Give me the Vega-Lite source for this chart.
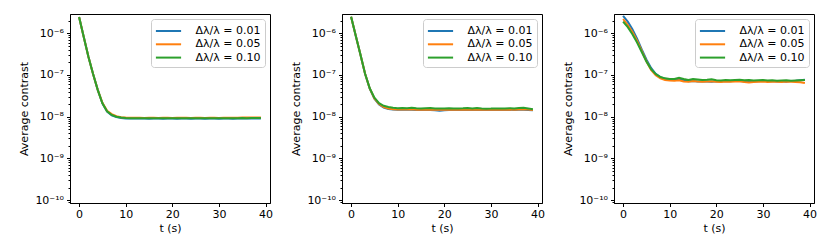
{
  "$schema": "https://vega.github.io/schema/vega-lite/v6.json",
  "background": "white",
  "padding": {"left": 18, "top": 13, "right": 5, "bottom": 5},
  "spacing": 16,
  "datasets": {
    "rows": [
      {"p":1,"t":0,"a":2.45e-6,"b":2.45e-6,"c":2.45e-6},
      {"p":1,"t":1,"a":8.1e-7,"b":8.1e-7,"c":8.1e-7},
      {"p":1,"t":2,"a":2.75e-7,"b":2.75e-7,"c":2.75e-7},
      {"p":1,"t":3,"a":1.05e-7,"b":1.05e-7,"c":1.05e-7},
      {"p":1,"t":4,"a":4.4e-8,"b":4.4e-8,"c":4.4e-8},
      {"p":1,"t":5,"a":2.1e-8,"b":2.15e-8,"c":2.1e-8},
      {"p":1,"t":6,"a":1.33e-8,"b":1.38e-8,"c":1.35e-8},
      {"p":1,"t":7,"a":1.08e-8,"b":1.15e-8,"c":1.1e-8},
      {"p":1,"t":8,"a":9.8e-9,"b":1.03e-8,"c":1.0e-8},
      {"p":1,"t":9,"a":9.3e-9,"b":9.7e-9,"c":9.5e-9},
      {"p":1,"t":10,"a":9.1e-9,"b":9.5e-9,"c":9.25e-9},
      {"p":1,"t":11,"a":9.05e-9,"b":9.4e-9,"c":9.2e-9},
      {"p":1,"t":12,"a":9.0e-9,"b":9.4e-9,"c":9.2e-9},
      {"p":1,"t":13,"a":9.0e-9,"b":9.4e-9,"c":9.15e-9},
      {"p":1,"t":14,"a":9.0e-9,"b":9.35e-9,"c":9.2e-9},
      {"p":1,"t":15,"a":8.95e-9,"b":9.4e-9,"c":9.2e-9},
      {"p":1,"t":16,"a":9.0e-9,"b":9.4e-9,"c":9.15e-9},
      {"p":1,"t":17,"a":9.0e-9,"b":9.35e-9,"c":9.2e-9},
      {"p":1,"t":18,"a":8.95e-9,"b":9.4e-9,"c":9.2e-9},
      {"p":1,"t":19,"a":9.0e-9,"b":9.4e-9,"c":9.15e-9},
      {"p":1,"t":20,"a":9.0e-9,"b":9.35e-9,"c":9.2e-9},
      {"p":1,"t":21,"a":8.95e-9,"b":9.4e-9,"c":9.2e-9},
      {"p":1,"t":22,"a":9.0e-9,"b":9.4e-9,"c":9.15e-9},
      {"p":1,"t":23,"a":9.0e-9,"b":9.4e-9,"c":9.2e-9},
      {"p":1,"t":24,"a":8.95e-9,"b":9.35e-9,"c":9.15e-9},
      {"p":1,"t":25,"a":9.0e-9,"b":9.4e-9,"c":9.2e-9},
      {"p":1,"t":26,"a":9.0e-9,"b":9.4e-9,"c":9.2e-9},
      {"p":1,"t":27,"a":8.95e-9,"b":9.35e-9,"c":9.15e-9},
      {"p":1,"t":28,"a":9.0e-9,"b":9.4e-9,"c":9.2e-9},
      {"p":1,"t":29,"a":9.0e-9,"b":9.4e-9,"c":9.2e-9},
      {"p":1,"t":30,"a":8.95e-9,"b":9.35e-9,"c":9.15e-9},
      {"p":1,"t":31,"a":9.0e-9,"b":9.4e-9,"c":9.2e-9},
      {"p":1,"t":32,"a":9.0e-9,"b":9.4e-9,"c":9.2e-9},
      {"p":1,"t":33,"a":8.95e-9,"b":9.4e-9,"c":9.15e-9},
      {"p":1,"t":34,"a":9.0e-9,"b":9.45e-9,"c":9.2e-9},
      {"p":1,"t":35,"a":9.0e-9,"b":9.5e-9,"c":9.25e-9},
      {"p":1,"t":36,"a":9.0e-9,"b":9.5e-9,"c":9.2e-9},
      {"p":1,"t":37,"a":9.0e-9,"b":9.55e-9,"c":9.25e-9},
      {"p":1,"t":38,"a":9.0e-9,"b":9.5e-9,"c":9.3e-9},
      {"p":1,"t":39,"a":9.0e-9,"b":9.5e-9,"c":9.3e-9},

      {"p":2,"t":0,"a":2.5e-6,"b":2.5e-6,"c":2.5e-6},
      {"p":2,"t":1,"a":8.7e-7,"b":8.7e-7,"c":8.7e-7},
      {"p":2,"t":2,"a":3.1e-7,"b":3.1e-7,"c":3.1e-7},
      {"p":2,"t":3,"a":1.07e-7,"b":1.07e-7,"c":1.07e-7},
      {"p":2,"t":4,"a":4.7e-8,"b":4.75e-8,"c":4.8e-8},
      {"p":2,"t":5,"a":2.7e-8,"b":2.75e-8,"c":2.85e-8},
      {"p":2,"t":6,"a":1.95e-8,"b":2.0e-8,"c":2.1e-8},
      {"p":2,"t":7,"a":1.65e-8,"b":1.7e-8,"c":1.82e-8},
      {"p":2,"t":8,"a":1.52e-8,"b":1.56e-8,"c":1.7e-8},
      {"p":2,"t":9,"a":1.48e-8,"b":1.5e-8,"c":1.64e-8},
      {"p":2,"t":10,"a":1.47e-8,"b":1.49e-8,"c":1.6e-8},
      {"p":2,"t":11,"a":1.49e-8,"b":1.5e-8,"c":1.62e-8},
      {"p":2,"t":12,"a":1.46e-8,"b":1.48e-8,"c":1.6e-8},
      {"p":2,"t":13,"a":1.47e-8,"b":1.5e-8,"c":1.63e-8},
      {"p":2,"t":14,"a":1.45e-8,"b":1.47e-8,"c":1.59e-8},
      {"p":2,"t":15,"a":1.46e-8,"b":1.48e-8,"c":1.57e-8},
      {"p":2,"t":16,"a":1.44e-8,"b":1.46e-8,"c":1.6e-8},
      {"p":2,"t":17,"a":1.45e-8,"b":1.49e-8,"c":1.62e-8},
      {"p":2,"t":18,"a":1.42e-8,"b":1.47e-8,"c":1.58e-8},
      {"p":2,"t":19,"a":1.38e-8,"b":1.46e-8,"c":1.56e-8},
      {"p":2,"t":20,"a":1.43e-8,"b":1.48e-8,"c":1.58e-8},
      {"p":2,"t":21,"a":1.45e-8,"b":1.47e-8,"c":1.6e-8},
      {"p":2,"t":22,"a":1.44e-8,"b":1.46e-8,"c":1.57e-8},
      {"p":2,"t":23,"a":1.46e-8,"b":1.47e-8,"c":1.58e-8},
      {"p":2,"t":24,"a":1.45e-8,"b":1.48e-8,"c":1.59e-8},
      {"p":2,"t":25,"a":1.44e-8,"b":1.46e-8,"c":1.61e-8},
      {"p":2,"t":26,"a":1.45e-8,"b":1.47e-8,"c":1.58e-8},
      {"p":2,"t":27,"a":1.46e-8,"b":1.49e-8,"c":1.62e-8},
      {"p":2,"t":28,"a":1.44e-8,"b":1.47e-8,"c":1.57e-8},
      {"p":2,"t":29,"a":1.45e-8,"b":1.46e-8,"c":1.55e-8},
      {"p":2,"t":30,"a":1.46e-8,"b":1.47e-8,"c":1.56e-8},
      {"p":2,"t":31,"a":1.44e-8,"b":1.48e-8,"c":1.58e-8},
      {"p":2,"t":32,"a":1.45e-8,"b":1.46e-8,"c":1.56e-8},
      {"p":2,"t":33,"a":1.44e-8,"b":1.47e-8,"c":1.57e-8},
      {"p":2,"t":34,"a":1.46e-8,"b":1.48e-8,"c":1.59e-8},
      {"p":2,"t":35,"a":1.45e-8,"b":1.47e-8,"c":1.58e-8},
      {"p":2,"t":36,"a":1.46e-8,"b":1.49e-8,"c":1.61e-8},
      {"p":2,"t":37,"a":1.47e-8,"b":1.5e-8,"c":1.63e-8},
      {"p":2,"t":38,"a":1.45e-8,"b":1.48e-8,"c":1.58e-8},
      {"p":2,"t":39,"a":1.43e-8,"b":1.45e-8,"c":1.5e-8},

      {"p":3,"t":0,"a":2.63e-6,"b":2.2e-6,"c":1.9e-6},
      {"p":3,"t":1,"a":1.9e-6,"b":1.58e-6,"c":1.4e-6},
      {"p":3,"t":2,"a":1.25e-6,"b":1.07e-6,"c":9.5e-7},
      {"p":3,"t":3,"a":7.4e-7,"b":6.6e-7,"c":6.0e-7},
      {"p":3,"t":4,"a":4.1e-7,"b":3.8e-7,"c":3.55e-7},
      {"p":3,"t":5,"a":2.35e-7,"b":2.14e-7,"c":2.1e-7},
      {"p":3,"t":6,"a":1.48e-7,"b":1.32e-7,"c":1.38e-7},
      {"p":3,"t":7,"a":1.07e-7,"b":9.8e-8,"c":1.05e-7},
      {"p":3,"t":8,"a":8.9e-8,"b":8.3e-8,"c":8.9e-8},
      {"p":3,"t":9,"a":8.1e-8,"b":7.6e-8,"c":8.3e-8},
      {"p":3,"t":10,"a":7.8e-8,"b":7.4e-8,"c":8.0e-8},
      {"p":3,"t":11,"a":7.6e-8,"b":7.3e-8,"c":8.0e-8},
      {"p":3,"t":12,"a":7.9e-8,"b":7.5e-8,"c":8.6e-8},
      {"p":3,"t":13,"a":7.5e-8,"b":7.0e-8,"c":8.0e-8},
      {"p":3,"t":14,"a":7.1e-8,"b":6.9e-8,"c":7.6e-8},
      {"p":3,"t":15,"a":7.2e-8,"b":7.2e-8,"c":8.0e-8},
      {"p":3,"t":16,"a":7.0e-8,"b":7.0e-8,"c":7.8e-8},
      {"p":3,"t":17,"a":7.1e-8,"b":6.9e-8,"c":7.6e-8},
      {"p":3,"t":18,"a":7.0e-8,"b":7.0e-8,"c":7.7e-8},
      {"p":3,"t":19,"a":6.9e-8,"b":7.1e-8,"c":7.9e-8},
      {"p":3,"t":20,"a":7.1e-8,"b":6.9e-8,"c":7.5e-8},
      {"p":3,"t":21,"a":7.0e-8,"b":6.8e-8,"c":7.4e-8},
      {"p":3,"t":22,"a":7.2e-8,"b":7.0e-8,"c":7.6e-8},
      {"p":3,"t":23,"a":7.1e-8,"b":6.9e-8,"c":7.5e-8},
      {"p":3,"t":24,"a":7.3e-8,"b":7.0e-8,"c":7.6e-8},
      {"p":3,"t":25,"a":7.2e-8,"b":7.1e-8,"c":7.7e-8},
      {"p":3,"t":26,"a":7.0e-8,"b":6.8e-8,"c":7.5e-8},
      {"p":3,"t":27,"a":7.1e-8,"b":6.6e-8,"c":7.6e-8},
      {"p":3,"t":28,"a":7.2e-8,"b":6.8e-8,"c":7.4e-8},
      {"p":3,"t":29,"a":7.1e-8,"b":6.9e-8,"c":7.5e-8},
      {"p":3,"t":30,"a":7.3e-8,"b":7.0e-8,"c":7.6e-8},
      {"p":3,"t":31,"a":7.1e-8,"b":6.8e-8,"c":7.4e-8},
      {"p":3,"t":32,"a":7.2e-8,"b":6.9e-8,"c":7.5e-8},
      {"p":3,"t":33,"a":7.0e-8,"b":6.9e-8,"c":7.3e-8},
      {"p":3,"t":34,"a":7.1e-8,"b":6.8e-8,"c":7.4e-8},
      {"p":3,"t":35,"a":6.9e-8,"b":7.0e-8,"c":7.5e-8},
      {"p":3,"t":36,"a":7.2e-8,"b":6.9e-8,"c":7.3e-8},
      {"p":3,"t":37,"a":7.3e-8,"b":6.8e-8,"c":7.4e-8},
      {"p":3,"t":38,"a":7.5e-8,"b":6.7e-8,"c":7.5e-8},
      {"p":3,"t":39,"a":7.7e-8,"b":6.4e-8,"c":7.6e-8}
    ]
  },
  "hconcat": [
    {
      "data": {"name": "rows"},
      "width": 200, "height": 189,
      "transform": [{"filter": "datum.p == 1"}, {"fold": ["a", "b", "c"], "as": ["s", "v"]}],
      "mark": {"type": "line", "strokeWidth": 2, "clip": true},
      "encoding": {
        "x": {"field": "t", "type": "quantitative", "title": "t (s)", "scale": {"domain": [-1.95, 40.95], "nice": false, "zero": false}, "axis": {"values": [0, 10, 20, 30, 40]}},
        "y": {"field": "v", "type": "quantitative", "title": "Average contrast", "scale": {"type": "log", "domain": [8.5e-11, 2.9e-6], "nice": false}},
        "color": {"field": "s", "type": "nominal", "scale": {"domain": ["a", "b", "c"], "range": ["#1f77b4", "#ff7f0e", "#2ca02c"]},
          "legend": {"labelExpr": "datum.label == 'a' ? 'Δλ/λ = 0.01' : datum.label == 'b' ? 'Δλ/λ = 0.05' : 'Δλ/λ = 0.10'"}}
      }
    },
    {
      "data": {"name": "rows"},
      "width": 200, "height": 189,
      "transform": [{"filter": "datum.p == 2"}, {"fold": ["a", "b", "c"], "as": ["s", "v"]}],
      "mark": {"type": "line", "strokeWidth": 2, "clip": true},
      "encoding": {
        "x": {"field": "t", "type": "quantitative", "title": "t (s)", "scale": {"domain": [-1.95, 40.95], "nice": false, "zero": false}, "axis": {"values": [0, 10, 20, 30, 40]}},
        "y": {"field": "v", "type": "quantitative", "title": "Average contrast", "scale": {"type": "log", "domain": [8.5e-11, 2.9e-6], "nice": false}},
        "color": {"field": "s", "type": "nominal", "scale": {"domain": ["a", "b", "c"], "range": ["#1f77b4", "#ff7f0e", "#2ca02c"]},
          "legend": {"labelExpr": "datum.label == 'a' ? 'Δλ/λ = 0.01' : datum.label == 'b' ? 'Δλ/λ = 0.05' : 'Δλ/λ = 0.10'"}}
      }
    },
    {
      "data": {"name": "rows"},
      "width": 200, "height": 189,
      "transform": [{"filter": "datum.p == 3"}, {"fold": ["a", "b", "c"], "as": ["s", "v"]}],
      "mark": {"type": "line", "strokeWidth": 2, "clip": true},
      "encoding": {
        "x": {"field": "t", "type": "quantitative", "title": "t (s)", "scale": {"domain": [-1.95, 40.95], "nice": false, "zero": false}, "axis": {"values": [0, 10, 20, 30, 40]}},
        "y": {"field": "v", "type": "quantitative", "title": "Average contrast", "scale": {"type": "log", "domain": [8.5e-11, 2.9e-6], "nice": false}},
        "color": {"field": "s", "type": "nominal", "scale": {"domain": ["a", "b", "c"], "range": ["#1f77b4", "#ff7f0e", "#2ca02c"]},
          "legend": {"labelExpr": "datum.label == 'a' ? 'Δλ/λ = 0.01' : datum.label == 'b' ? 'Δλ/λ = 0.05' : 'Δλ/λ = 0.10'"}}
      }
    }
  ],
  "resolve": {"legend": {"color": "independent"}, "scale": {"color": "independent"}},
  "config": {
    "font": "DejaVu Sans",
    "view": {"stroke": "black", "strokeWidth": 1},
    "axis": {
      "grid": false,
      "domainColor": "black",
      "tickColor": "black",
      "labelColor": "black",
      "titleColor": "black",
      "labelFont": "DejaVu Sans",
      "titleFont": "DejaVu Sans",
      "labelFontSize": 11,
      "titleFontSize": 11,
      "titleFontWeight": "normal",
      "tickSize": 3.5
    },
    "axisX": {"labelPadding": 2, "titlePadding": 3, "labelFlush": false},
    "axisY": {
      "values": [9e-11, 1e-10, 2e-10, 3e-10, 4e-10, 5e-10, 6e-10, 7e-10, 8e-10, 9e-10, 1e-9, 2e-9, 3e-9, 4e-9, 5e-9, 6e-9, 7e-9, 8e-9, 9e-9, 1e-8, 2e-8, 3e-8, 4e-8, 5e-8, 6e-8, 7e-8, 8e-8, 9e-8, 1e-7, 2e-7, 3e-7, 4e-7, 5e-7, 6e-7, 7e-7, 8e-7, 9e-7, 1e-6, 2e-6],
      "labelOverlap": false,
      "labelPadding": 3,
      "titlePadding": 5,
      "labelExpr": "abs(log(datum.value)/LN10 - round(log(datum.value)/LN10)) > 0.01 ? '' : (round(log(datum.value)/LN10) == -6 ? '10⁻⁶' : round(log(datum.value)/LN10) == -7 ? '10⁻⁷' : round(log(datum.value)/LN10) == -8 ? '10⁻⁸' : round(log(datum.value)/LN10) == -9 ? '10⁻⁹' : '10⁻¹⁰')",
      "tickSize": {"condition": {"test": "abs(log(datum.value)/LN10 - round(log(datum.value)/LN10)) > 0.01", "value": 2}, "value": 3.5}
    },
    "legend": {
      "orient": "top-right",
      "offset": 5,
      "title": null,
      "padding": 4,
      "rowPadding": 0.3,
      "strokeColor": "#cccccc",
      "fillColor": "rgba(255,255,255,0.8)",
      "cornerRadius": 3,
      "symbolType": "M-1.8,0H1.8",
      "symbolSize": 196,
      "symbolStrokeWidth": 2,
      "symbolOffset": 5.5,
      "labelOffset": 19,
      "labelFont": "DejaVu Sans",
      "labelFontSize": 11,
      "labelColor": "black"
    }
  }
}
